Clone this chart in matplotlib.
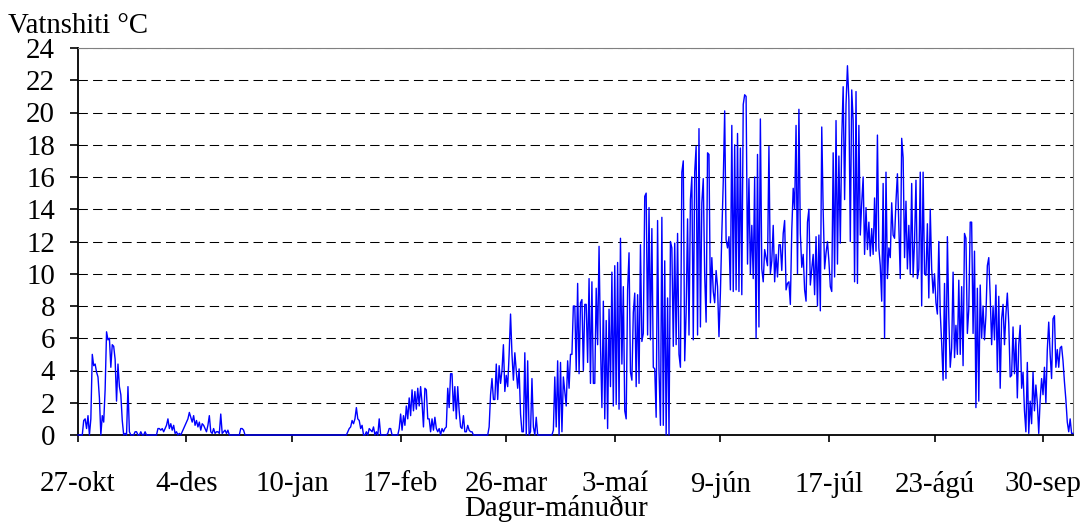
import matplotlib
matplotlib.use('Agg')
import matplotlib.pyplot as plt
import pandas as pd

## water temperature, two readings per day (00 and 12)
okt_2004 = [0, 0, 0, 0, 0.9, 1.0, 0.4, 1.2, 0, 1.0]
nov = [5.0, 4.3, 4.4, 3.9, 3.6, 2.3, 0, 1.2, 0.8, 2.8,
       6.4, 5.9, 6.0, 4.2, 5.6, 5.5, 4.7, 2.1, 4.4, 3.0,
       2.5, 0.9, 0, 0.1, 0, 3.0, 0.2, 0, 0, 0,
       0.2, 0.2, 0, 0, 0.2, 0, 0, 0.2, 0, 0,
       0, 0, 0, 0, 0, 0, 0.4, 0.4, 0.3, 0.4,
       0.2, 0.4, 0.6, 1.0, 0.4, 0.7, 0.3, 0.6, 0.1, 0.2]
des = [0, 0.1, 0, 0.2, 0.4, 0.6, 0.8, 1.0, 1.4, 1.1,
       0.8, 1.2, 0.6, 0.9, 0.5, 0.8, 0.3, 0.7, 0.6, 0.4,
       0.2, 0.6, 1.2, 0.2, 0.1, 0.4, 0.1, 0.2, 0.2, 0.1,
       1.3, 0.1, 0.2, 0.3, 0.1, 0.3, 0, 0, 0, 0,
       0, 0, 0, 0, 0.4, 0.4, 0.3, 0, 0, 0,
       0, 0, 0, 0, 0, 0, 0, 0, 0, 0,
       0, 0]
jan = [0, 0, 0, 0, 0, 0, 0, 0, 0, 0,
       0, 0, 0, 0, 0, 0, 0, 0, 0, 0,
       0, 0, 0, 0, 0, 0, 0, 0, 0, 0,
       0, 0, 0, 0, 0, 0, 0, 0, 0, 0,
       0, 0, 0, 0, 0, 0, 0, 0, 0, 0,
       0, 0, 0, 0, 0, 0, 0, 0.2, 0.4, 0.5,
       0.9, 0.7]
feb = [1.0, 1.7, 1.0, 0.9, 0.4, 0.6, 0, 0, 0.2, 0,
       0.4, 0.3, 0.2, 0.5, 0, 0.2, 0, 1.0, 0, 0,
       0, 0, 0, 0.1, 0.4, 0.4, 0, 0, 0, 0,
       0, 0.4, 1.3, 0.3, 1.2, 0.6, 1.8, 1.0, 2.3, 1.2,
       2.8, 1.5, 2.7, 1.6, 2.9, 1.8, 3.0, 2.0, 0.5, 2.9,
       2.8, 1.0, 1.0, 0.2, 1.0, 0.3]
mar = [1.1, 0.4, 0.2, 0.4, 0, 0.4, 0.2, 0.4, 0.5, 2.9,
       1.7, 3.8, 3.8, 1.5, 3.0, 1.0, 3.0, 1.5, 0.5, 0.4,
       1.2, 0.2, 0.2, 0.6, 0.3, 0.2, 0.2, 0, 0, 0,
       0, 0, 0, 0, 0, 0, 0, 0, 0.5, 2.5,
       3.5, 2.2, 2.2, 4.4, 2.2, 4.3, 3.2, 4.0, 5.6, 2.7,
       3.7, 3.0, 5.0, 7.5, 5.0, 3.4, 5.1, 4.0, 2.9, 4.1,
       1.3, 0.2]
apr = [0.2, 5.1, 0, 4.6, 0, 0.2, 3.5, 0.5, 0, 1.1,
       0, 0, 0, 0, 0, 0, 0, 0, 0, 0,
       0, 0.3, 3.6, 0.5, 4.6, 0, 4.5, 0.2, 3.6, 2.7,
       1.8, 4.6, 2.9, 5.0, 5.0, 8.0, 8.0, 4.0, 9.4, 3.8,
       8.2, 8.4, 4.0, 8.1, 8.1, 4.5, 9.7, 3.2, 9.5, 3.2,
       3.2, 9.1, 5.6, 11.7, 5.6, 1.7, 8.3, 1.0, 7.1, 0.4]
mai = [7.8, 3.0, 10.1, 1.8, 10.5, 1.9, 10.7, 1.6, 12.2, 4.4,
       9.2, 1.5, 1.0, 9.0, 11.3, 3.9, 3.4, 7.6, 8.8, 3.0,
       8.7, 3.2, 11.8, 5.8, 6.3, 14.8, 15.0, 6.2, 14.1, 5.9,
       12.8, 4.2, 4.1, 1.1, 13.3, 4.0, 0.6, 13.5, 0.6, 10.8,
       0.0, 8.5, 0.0, 12.0, 11.6, 5.5, 11.9, 5.6, 12.5, 5.0,
       4.2, 16.3, 17.0, 4.6, 7.6, 13.4, 6.2, 14.6, 16.0, 5.9,
       16.3, 17.9]
jun = [6.2, 19.0, 6.7, 14.4, 15.9, 9.9, 7.0, 17.5, 17.4, 8.2,
       11.0, 8.9, 8.2, 10.2, 9.2, 6.1, 8.8, 12.5, 15.7, 20.1,
       12.1, 11.6, 12.3, 9.0, 19.2, 8.9, 18.0, 9.0, 18.7, 8.9,
       17.8, 8.7, 20.5, 21.1, 21.0, 10.6, 15.9, 10.0, 13.0, 9.7,
       16.0, 6.0, 17.4, 6.7, 19.6, 10.3, 9.5, 11.5, 11.0, 10.5,
       17.9, 10.0, 10.8, 13.0, 9.5, 11.2, 9.8, 11.8, 11.8, 10.2]
jul = [12.5, 13.3, 9.0, 9.4, 9.5, 8.1, 12.7, 15.3, 14.0, 19.2,
       10.0, 20.2, 12.5, 10.4, 11.2, 9.0, 8.3, 13.2, 14.0, 9.3,
       10.3, 11.2, 8.7, 12.3, 8.0, 12.4, 7.7, 19.1, 13.9, 10.3,
       11.3, 12.0, 10.8, 9.2, 8.9, 17.5, 9.8, 19.5, 10.6, 17.3,
       11.9, 18.4, 21.6, 14.6, 20.5, 22.9, 20.8, 12.0, 21.4, 19.5,
       9.5, 21.3, 9.4, 19.2, 12.4, 14.4, 16.0, 11.2, 14.1, 11.5,
       13.2, 11.1]
agu = [12.8, 11.2, 14.7, 11.4, 18.6, 11.6, 10.5, 8.3, 15.6, 6.0,
       16.3, 9.7, 11.6, 11.0, 14.4, 12.4, 12.2, 14.5, 16.2, 12.9,
       9.7, 18.4, 17.2, 11.0, 14.5, 10.3, 13.0, 10.0, 15.6, 9.8,
       12.0, 15.8, 9.7, 10.3, 16.3, 8.0, 16.3, 10.0, 9.9, 13.1,
       8.5, 14.0, 10.3, 8.8, 10.0, 8.2, 7.5, 12.0, 7.6, 5.7,
       3.4, 9.4, 3.5, 12.3, 7.3, 4.2, 5.4, 10.1, 4.8, 6.8,
       5.0, 9.6]
sep = [5.0, 9.2, 4.3, 12.5, 12.2, 6.3, 7.8, 13.2, 13.2, 6.3,
       11.4, 1.7, 9.1, 2.1, 9.3, 6.0, 8.0, 5.9, 7.4, 10.5,
       11.0, 8.6, 5.6, 8.0, 5.9, 9.3, 3.9, 8.6, 2.9, 7.2,
       8.1, 5.6, 7.5, 8.8, 6.9, 3.6, 3.7, 6.7, 3.8, 6.0,
       2.3, 5.6, 6.8, 2.9, 3.9, 1.5, 0.2, 4.5, 0.1, 2.1,
       0.7, 3.9, 1.5, 3.1, 2.0, 0.1, 2.2, 3.5, 2.5, 4.2]
okt_2005 = [2.0, 5.3, 7.0, 5.0, 3.5, 7.2, 7.4, 4.2, 5.3, 4.2,
            5.4, 5.5, 4.6, 3.3, 2.2, 0.8, 0.2, 1.0, 0.1, 0.1]

tick_dates = ['2004-10-27', '2004-12-04', '2005-01-10', '2005-02-17', '2005-03-26',
              '2005-05-03', '2005-06-09', '2005-07-17', '2005-08-23', '2005-09-30']
tick_labels = ['27-okt', '4-des', '10-jan', '17-feb', '26-mar',
               '3-maí', '9-jún', '17-júl', '23-ágú', '30-sep']

hiti = okt_2004 + nov + des + jan + feb + mar + apr + mai + jun + jul + agu + sep + okt_2005
timi = pd.date_range('2004-10-27', periods=len(hiti), freq='12h')

plt.rcParams['font.family'] = ['Liberation Serif', 'DejaVu Serif']
plt.rcParams['font.size'] = 20.8

W, H = 1088, 524
fig = plt.figure(figsize=(W / 100, H / 100), dpi=100)
ax = fig.add_axes([78 / W, 1 - 435 / H, (1073 - 78) / W, (435 - 48) / H])

ax.plot(timi, hiti, color='#0000ff', lw=1.0, zorder=3, clip_on=False)

ax.set_ylim(0, 24)
ax.set_yticks(range(0, 25, 2))
ax.set_xlim(pd.Timestamp('2004-10-27'), timi[-1])
ax.set_xticks(pd.to_datetime(tick_dates))
ax.set_xticklabels(tick_labels)

ax.grid(axis='y', color='black', linestyle=(0, (9, 5)), linewidth=0.75, zorder=1)
ax.set_axisbelow(True)

for s in ['left', 'bottom']:
    ax.spines[s].set_color('black')
    ax.spines[s].set_linewidth(1.3)
for s in ['top', 'right']:
    ax.spines[s].set_color('#808080')
    ax.spines[s].set_linewidth(0.8)

ax.tick_params(axis='x', direction='out', length=5, width=1.2, pad=21)
ax.tick_params(axis='y', direction='out', length=6, width=1.2, pad=10.5)

fig.text(8 / W, 1 - 33 / H, 'Vatnshiti °C', ha='left', va='baseline')
fig.text(556 / W, 1 - 516 / H, 'Dagur-mánuður', ha='center', va='baseline')

fig.savefig('out.png', dpi=100)
plt.close(fig)
